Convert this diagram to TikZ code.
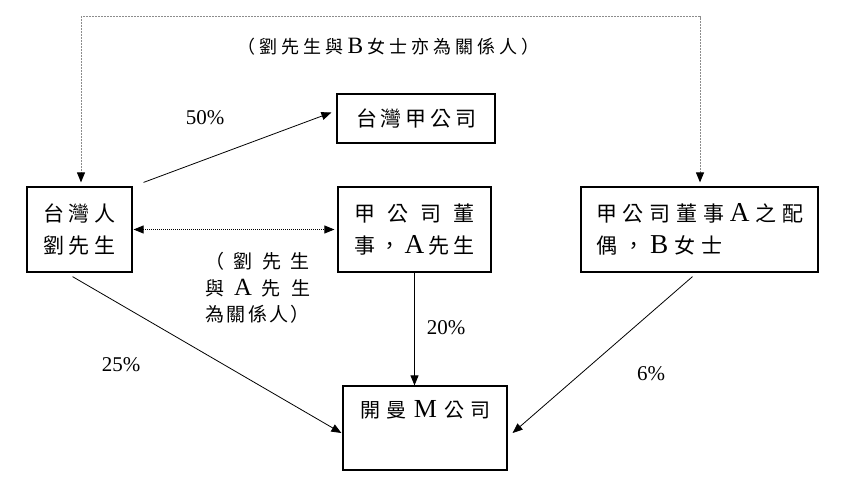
\documentclass[tikz,border=0pt]{standalone}
\usepackage{fontspec}
\usepackage{graphicx}
\setmainfont{Liberation Serif}
\newfontfamily\cjk{Noto Sans CJK TC}
\newcommand\lat[1]{\scalebox{1.3}{\rmfamily #1}}
\usetikzlibrary{arrows.meta,calc}
\begin{document}
\begin{tikzpicture}[x=1pt,y=-1pt,
  box/.style={draw, line width=1.2pt, inner sep=0pt, align=center,
    font=\cjk\fontsize{21}{32}\selectfont},
  cjktext/.style={inner sep=0pt, font=\cjk\fontsize{20}{32}\selectfont},
  reltext/.style={inner sep=0pt, align=left, font=\cjk\fontsize{19}{26.5}\selectfont},
  toptext/.style={inner sep=0pt, font=\cjk\fontsize{18}{20}\selectfont},
  pct/.style={inner sep=0pt, font=\fontsize{21}{24}\selectfont},
  tip/.style={-{Triangle[length=10pt,width=8pt]}},
  conn/.style={line width=0.8pt, tip},
  grayline/.style={line width=1pt, draw=black!45, dash pattern=on 1pt off 0.5pt,
    {Triangle[length=10pt,width=8pt,color=black]}-{Triangle[length=10pt,width=8pt,color=black]}},
  dotline/.style={line width=0.8pt, dash pattern=on 1pt off 1pt,
    {Triangle[length=10pt,width=8pt]}-{Triangle[length=10pt,width=8pt]}}
]
\useasboundingbox (0,0) rectangle (858,494);

% boxes
\node[box, minimum width=105pt, minimum height=85pt] (L) at (79.5,229.5)
  {\makebox[72pt][s]{台\hfil 灣\hfil 人}\\\makebox[72pt][s]{劉\hfil 先\hfil 生}};
\node[box, minimum width=158pt, minimum height=49pt] (T) at (416,118.5)
  {\makebox[120pt][s]{台\hfil 灣\hfil 甲\hfil 公\hfil 司}};
\node[box, minimum width=153pt, minimum height=85pt] (A) at (414.5,229.5)
  {\makebox[120pt][s]{甲\hfil 公\hfil 司\hfil 董}\\\makebox[120pt][s]{事\hfil ，\hfil \lat{A}\hfil 先\hfil 生}};
\node[box, align=left, minimum width=237pt, minimum height=85pt] (B) at (699.5,229.5)
  {\makebox[207pt][s]{甲\hfil 公\hfil 司\hfil 董\hfil 事\hfil \lat{A}\hfil 之\hfil 配}\\\makebox[126.4pt][s]{偶\hfil ，\hfil \lat{B}\hfil 女\hfil 士}};
\node[box, minimum width=164pt, minimum height=84pt] (M) at (425,428) {};
\node[cjktext] (Mt) at (425.5,410) {\makebox[131pt][s]{開\hfil 曼\hfil \lat{M}\hfil 公\hfil 司}};

% labels
\node[toptext] (rel1) at (388.5,47)
  {\makebox[302pt][s]{（\hfil 劉\hfil 先\hfil 生\hfil 與\hfil \lat{B}\hfil 女\hfil 士\hfil 亦\hfil 為\hfil 關\hfil 係\hfil 人\hfil ）}};
\node[reltext] (rel2) at (257.5,288)
  {\makebox[105pt][s]{（\hfil 劉\hfil 先\hfil 生}\\\makebox[105pt][s]{與\hfil \lat{A}\hfil 先\hfil 生}\\\makebox[105pt][s]{為\hfil 關\hfil 係\hfil 人\hfil ）}};
\node[pct] (p50) at (205,118) {50\%};
\node[pct] (p25) at (121,365) {25\%};
\node[pct] (p20) at (446,328) {20\%};
\node[pct] (p6) at (651,374) {6\%};

% connectors
\coordinate (tl) at (81,17);
\coordinate (tr) at (700,17);
\draw[grayline] ($(L.north -| tl)+(0,-4)$) -- (tl) -- (tr) -- ($(B.north -| tr)+(0,-4)$);
\draw[conn] ($(L.north east)+(11,-4)$) -- ($(T.west)+(-5,-6)$);
\draw[dotline, shorten <=1pt, shorten >=3pt] (L.east) -- (A.west);
\draw[conn] (A.south) -- (A.south |- M.north);
\draw[conn] ($(L.south)+(-7,4)$) -- ($(M.west)+(-1,5)$);
\draw[conn] ($(B.south)+(-7,4)$) -- ($(M.east)+(5,5)$);
\end{tikzpicture}
\end{document}
